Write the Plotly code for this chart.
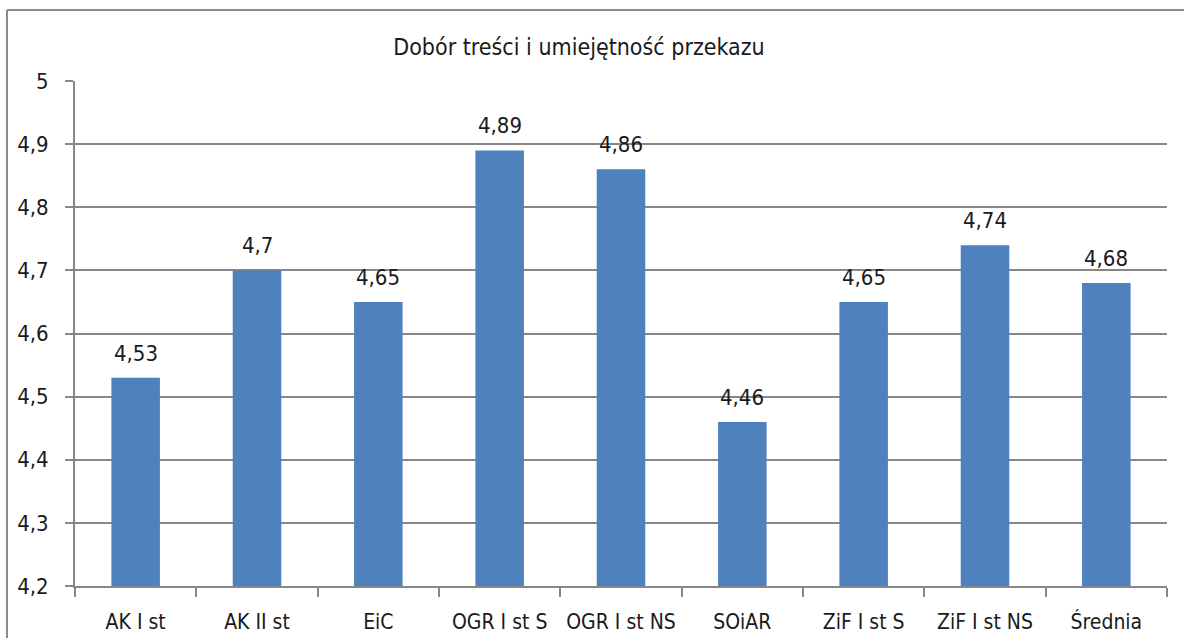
import plotly.graph_objects as go

categories = ["AK I st", "AK II st", "EiC", "OGR I st S", "OGR I st NS", "SOiAR", "ZiF I st S", "ZiF I st NS", "Średnia"]
values = [4.53, 4.7, 4.65, 4.89, 4.86, 4.46, 4.65, 4.74, 4.68]
y_ticks = [4.2, 4.3, 4.4, 4.5, 4.6, 4.7, 4.8, 4.9, 5.0]
y_tick_labels = ["4,2", "4,3", "4,4", "4,5", "4,6", "4,7", "4,8", "4,9", "5"]
title_text = "Dobór treści i umiejętność przekazu"

FONT = "DejaVu Sans Condensed, Liberation Sans Narrow, Noto Sans, sans-serif"
GRAY = "#878787"
TXT = "#1a1a1a"

W, H = 1184, 638
L, R, T, B = 75, 17, 81, 52
pw, ph = W - L - R, H - T - B

fig = go.Figure()
fig.add_trace(go.Bar(
    x=categories, y=values, marker_color="#4F81BD", marker_line_width=0,
    width=0.4, hoverinfo="x+y",
))

for c, v in zip(categories, values):
    fig.add_annotation(x=c, y=v, text=str(v).replace(".", ","), showarrow=False,
                       yanchor="bottom", yshift=10,
                       font=dict(family=FONT, size=22, color=TXT))

# outer chart frame: only the top and left edges are inside the picture
fx0 = (7 - L) / pw
fy1 = 1 + (T - 10) / ph
frame_line = dict(color="#8c8c8c", width=2)
fig.add_shape(type="line", xref="paper", yref="paper", x0=fx0, x1=(W - L) / pw,
              y0=fy1, y1=fy1, line=frame_line, layer="below")
fig.add_shape(type="line", xref="paper", yref="paper", x0=fx0, x1=fx0,
              y0=-B / ph, y1=fy1, line=frame_line, layer="below")

fig.update_layout(
    width=W, height=H,
    margin=dict(l=L, r=R, t=T, b=B, autoexpand=False),
    paper_bgcolor="white", plot_bgcolor="white",
    showlegend=False,
    title=dict(text=title_text, x=579 / W, xanchor="center", y=1 - 47 / H, yanchor="middle",
               font=dict(family=FONT, size=23, color=TXT)),
    font=dict(family=FONT, size=22, color=TXT),
    bargap=0.6,
)
fig.update_yaxes(range=[4.2, 5.0], tickvals=y_ticks, ticktext=y_tick_labels,
                 showgrid=True, gridcolor=GRAY, gridwidth=2,
                 showline=True, linecolor=GRAY, linewidth=2,
                 ticks="outside", ticklen=8, tickcolor=GRAY, tickwidth=2,
                 ticklabelstandoff=12, zeroline=False, automargin=False,
                 tickfont=dict(family=FONT, size=22, color=TXT))
fig.update_xaxes(showgrid=False, showline=True, linecolor=GRAY, linewidth=2,
                 ticks="outside", tickson="boundaries", ticklen=9, tickcolor=GRAY, tickwidth=2,
                 ticklabelstandoff=16, tickangle=0, automargin=False,
                 tickfont=dict(family=FONT, size=21, color=TXT))

fig.write_html("out.html", config={"displayModeBar": False},
               post_script="document.body.style.margin='0';document.body.style.overflow='hidden';")
